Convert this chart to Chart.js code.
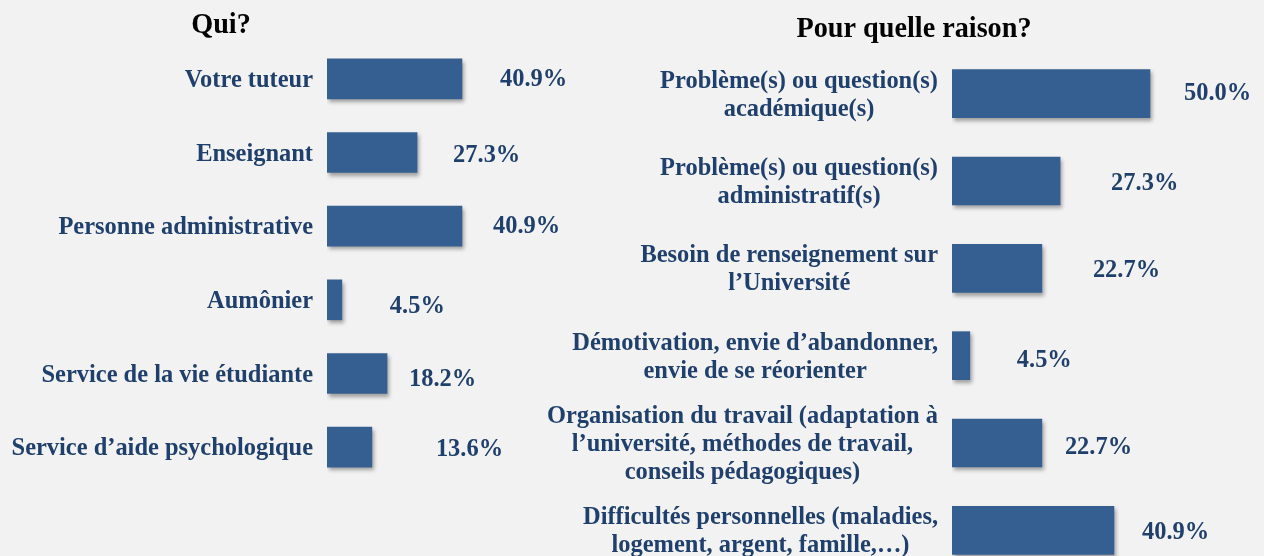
<!DOCTYPE html>
<html lang="fr">
<head>
<meta charset="utf-8">
<title>Qui? / Pour quelle raison?</title>
<script src="https://cdn.jsdelivr.net/npm/chart.js@4"></script>
<style>
  html, body { margin: 0; padding: 0; background: #f2f2f2; overflow: hidden; }
  #wrap { position: relative; width: 1264px; height: 556px; }
  #wrap canvas { position: absolute; left: 0; top: 0; }
</style>
</head>
<body>
<div id="wrap">
  <canvas id="qui" width="1264" height="600"></canvas>
  <canvas id="raison" width="1264" height="600"></canvas>
</div>
<script>
// ----------------- DONNEES -----------------
const quiLabels = [
  'Votre tuteur',
  'Enseignant',
  'Personne administrative',
  'Aumônier',
  'Service de la vie étudiante',
  'Service d’aide psychologique'
];
const quiValues = [40.9, 27.3, 40.9, 4.5, 18.2, 13.6];

const raisonLabels = [
  ['Problème(s) ou question(s)', 'académique(s)'],
  ['Problème(s) ou question(s)', 'administratif(s)'],
  ['Besoin de renseignement sur', 'l’Université'],
  ['Démotivation, envie d’abandonner,', 'envie de se réorienter'],
  ['Organisation du travail (adaptation à', 'l’université, méthodes de travail,', 'conseils pédagogiques)'],
  ['Difficultés personnelles (maladies,', 'logement, argent, famille,…)']
];
const raisonValues = [50.0, 27.3, 22.7, 4.5, 22.7, 40.9];

// decalage des etiquettes de valeur (x depuis le bout de la barre, y depuis le centre)
const quiNudgeX = [38, 36, 31, 48, 22, 64];
const quiNudgeY = [7, 9, 7, 13, 12, 9];
const raisonNudgeX = [34, 51, 51, 47, 23, 28];
const raisonNudgeY = [6, 9, 9, 11, 11, 9];

// ----------------- STYLE -----------------
const BAR = '#365f91';
const TXT = '#1f3f6d';
const FONT = 'bold 26px "Liberation Serif", "Times New Roman", serif';
const TITLE_FONT = 'bold 30px "Liberation Serif", "Times New Roman", serif';
const SX = 0.94; // police un peu condensee

function texte(ctx, str, x, y, align, font, color){
  ctx.save();
  ctx.font = font;
  ctx.fillStyle = color;
  ctx.textAlign = align;
  ctx.textBaseline = 'alphabetic';
  ctx.translate(x, y);
  ctx.scale(SX, 1);
  ctx.fillText(str, 0, 0);
  ctx.restore();
}

// ombre legere sous les barres
const ombre = {
  id: 'ombre',
  beforeDatasetDraw(chart){
    const ctx = chart.ctx;
    ctx.save();
    ctx.shadowColor = 'rgba(0,0,0,0.35)';
    ctx.shadowBlur = 4;
    ctx.shadowOffsetX = 2;
    ctx.shadowOffsetY = 3;
  },
  afterDatasetDraw(chart){ chart.ctx.restore(); }
};

// titres, categories et valeurs dessines a la main
const etiquettes = {
  id: 'etiquettes',
  afterDraw(chart, args, opts){
    const ctx = chart.ctx;
    const area = chart.chartArea;
    const meta = chart.getDatasetMeta(0);
    const vals = chart.data.datasets[0].data;

    texte(ctx, opts.titre, opts.titreX, opts.titreY, 'center', TITLE_FONT, '#000');

    chart.data.labels.forEach((lab, i) => {
      const bar = meta.data[i];
      const lignes = Array.isArray(lab) ? lab : [lab];
      ctx.font = FONT;
      const maxW = Math.max(...lignes.map(l => ctx.measureText(l).width)) * SX;
      const cx = area.left - 14 - maxW / 2;
      const y0 = bar.y + 8 - (lignes.length - 1) * opts.interligne / 2;
      lignes.forEach((l, k) => texte(ctx, l, cx, y0 + k * opts.interligne, 'center', FONT, TXT));

      texte(ctx, vals[i].toFixed(1) + '%', bar.x + opts.nudgeX[i], bar.y + opts.nudgeY[i], 'left', FONT, TXT);
    });
  }
};

function graphique(id, labels, values, max, padding, thickness, opts){
  return new Chart(document.getElementById(id), {
    type: 'bar',
    data: {
      labels: labels,
      datasets: [{
        data: values,
        backgroundColor: BAR,
        borderWidth: 0,
        barThickness: thickness
      }]
    },
    options: {
      indexAxis: 'y',
      responsive: false,
      devicePixelRatio: 1,
      animation: false,
      layout: { padding: padding },
      scales: {
        x: { display: false, min: 0, max: max },
        y: { display: false }
      },
      plugins: {
        legend: { display: false },
        tooltip: { enabled: false },
        etiquettes: opts
      }
    },
    plugins: [ombre, etiquettes]
  });
}

graphique('qui', quiLabels, quiValues, 80,
  { left: 327, right: 673, top: 42, bottom: 116 }, 40,
  { titre: 'Qui?', titreX: 221, titreY: 33, interligne: 28, nudgeX: quiNudgeX, nudgeY: quiNudgeY });

graphique('raison', raisonLabels, raisonValues, 75,
  { left: 952, right: 15, top: 50, bottom: 26 }, 48,
  { titre: 'Pour quelle raison?', titreX: 914, titreY: 37, interligne: 28, nudgeX: raisonNudgeX, nudgeY: raisonNudgeY });
</script>
</body>
</html>
